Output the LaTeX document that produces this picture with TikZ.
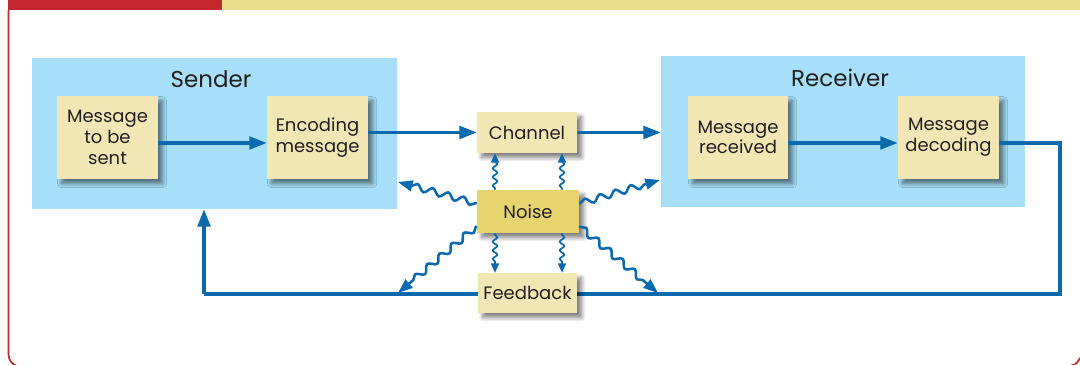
\documentclass[tikz,border=0pt]{standalone}
\usepackage{fontspec}
\setmainfont{Poppins}
\usetikzlibrary{arrows.meta,decorations.pathmorphing,fit,shadows.blur,calc}
\definecolor{lineblue}{HTML}{0B6AAE}
\definecolor{skyblue}{HTML}{A6DFF7}
\definecolor{paleyel}{HTML}{F2E7B4}
\definecolor{noiseyel}{HTML}{E6D46F}
\definecolor{framered}{HTML}{C4262E}
\definecolor{baryel}{HTML}{ECDD8A}
\definecolor{txt}{HTML}{231F20}
\tikzset{
  group/.style={fill=skyblue, inner sep=0pt},
  itembox/.style={fill=paleyel, inner sep=0pt,
    blur shadow={shadow xshift=3.5pt, shadow yshift=-3.5pt, shadow blur steps=10, shadow blur radius=3pt, shadow opacity=50}},
  itemtext/.style={text=txt, align=center, font=\fontsize{13.5}{15.5}\selectfont},
  title/.style={text=txt, font=\fontsize{17.2}{19}\selectfont},
  conn/.style={draw=lineblue, line width=2.3pt},
  arr/.style={conn, -{Triangle[length=13pt,width=9.5pt]}},
  wave/.style={draw=lineblue, line width=1.9pt, -{Triangle[length=11pt,width=8pt]},
    decorate, decoration={snake, amplitude=2.4pt, segment length=12pt, pre length=1pt, post length=9pt}},
  smallwave/.style={draw=lineblue, line width=1.3pt, -{Triangle[length=7pt,width=6pt]},
    decorate, decoration={snake, amplitude=1.7pt, segment length=6.5pt, pre length=1pt, post length=6pt}},
  framestroke/.style={draw=framered, line width=1.3pt},
}
\begin{document}
\begin{tikzpicture}[x=0.75pt, y=-0.75pt]
\useasboundingbox (0,0) rectangle (1080,364);
% frame (left edge and the two bottom corners reach inside the page)
\begin{scope}
\clip (0,0) rectangle (1080,364);
\draw[framestroke, rounded corners=9pt] (8.5,10) -- (8.5,366.5) -- (200,366.5);
\draw[framestroke] (1071,365.5) to[out=0, in=-128] (1082,355.5);
\fill[framered] (8,0) rectangle (222,10);
\fill[baryel] (222,0) rectangle (1080,10);
\end{scope}
% groups
\node[group, fit={(32,58) (397,209)}] (sender) {};
\node[group, fit={(661,56) (1025,207)}] (receiver) {};
\node[title] (sendert) at (211,79) {Sender};
\node[title] (receivert) at (840,78) {Receiver};
% items
\node[itembox, fit={(57,96) (158,179)}] (msg) {};
\node[itemtext] (msgt) at (msg.center) {Message\\to be\\sent};
\node[itembox, fit={(267,96) (368,179)}] (enc) {};
\node[itemtext] (enct) at (enc.center) {Encoding\\message};
\node[itembox, fit={(688,96) (788,179)}] (recv) {};
\node[itemtext] (recvt) at (recv.center) {Message\\received};
\node[itembox, fit={(898,96) (999,179)}] (dec) {};
\node[itemtext] (dect) at (dec.center) {Message\\decoding};
\node[itembox, fit={(477,112) (577,153)}] (chan) {};
\node[itemtext] (chant) at (chan.center) {Channel};
\node[itembox, fill=noiseyel, fit={(477,190) (579,233)}] (noise) {};
\node[itemtext] (noiset) at (noise.center) {Noise};
% feedback line (behind feedback box)
\coordinate (cr) at (1060,294);
\coordinate (cl) at (204,294);
\draw[conn] ([yshift=-4.1pt]dec.east) -| (cr) -- (cl);
\draw[arr] (cl) -- (cl |- sender.south);
\node[itembox, fit={(478,273) (577,313)}] (fb) {};
\node[itemtext] (fbt) at (fb.center) {Feedback};
% main arrows
\draw[arr] ([yshift=-4.1pt]msg.east) -- ([yshift=-4.1pt]enc.west);
\draw[arr] (enc.east |- chan.west) -- (chan.west);
\draw[arr] (chan.east) -- (chan.east -| receiver.west);
\draw[arr] ([yshift=-4.1pt]recv.east) -- ([yshift=-4.1pt]dec.west);
% noise waves
\coordinate (ul) at (398,182);
\coordinate (ur) at (660,180);
\coordinate (dl) at (398,293);
\coordinate (dr) at (658,293);
\draw[wave] ([yshift=6pt]noise.west) -- (ul);
\draw[wave] ([yshift=6pt]noise.east) -- (ur);
\draw[wave] ([yshift=-11pt]noise.west) -- (dl);
\draw[wave] ([yshift=-11pt]noise.east) -- (dr);
\draw[smallwave] ([xshift=-24.75pt]noise.north) -- ([xshift=-24.75pt]noise.north |- chan.south);
\draw[smallwave] ([xshift=25.5pt]noise.north) -- ([xshift=25.5pt]noise.north |- chan.south);
\draw[smallwave] ([xshift=-24.75pt]noise.south) -- ([xshift=-24.75pt]noise.south |- fb.north);
\draw[smallwave] ([xshift=25.5pt]noise.south) -- ([xshift=25.5pt]noise.south |- fb.north);
\end{tikzpicture}
\end{document}
